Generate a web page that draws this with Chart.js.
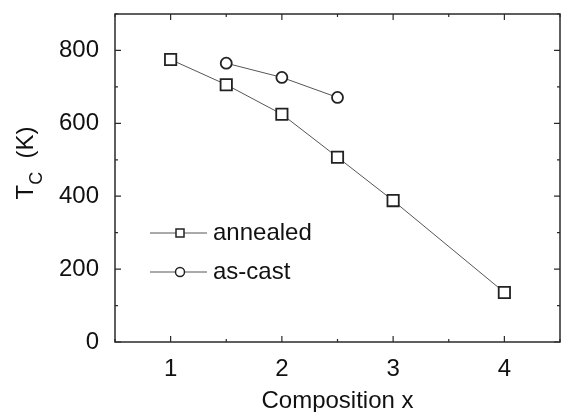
<!DOCTYPE html>
<html>
<head>
<meta charset="utf-8">
<script src="https://cdn.jsdelivr.net/npm/chart.js@4/dist/chart.umd.min.js"></script>
<style>
  html, body { margin: 0; padding: 0; background: #fff; }
  #wrap { width: 561px; height: 412px; }
</style>
</head>
<body>
<div id="wrap"><canvas id="grafico" width="561" height="412"></canvas></div>
<script>
// dados
const composicaoAnnealed = [1, 1.5, 2, 2.5, 3, 4];
const tcAnnealed = [775, 706, 625, 507, 388, 136];
const composicaoAsCast = [1.5, 2, 2.5];
const tcAsCast = [765, 726, 671];

const xTicks = [1, 2, 3, 4];
const xMinorTicks = [0.5, 1.5, 2.5, 3.5, 4.5];
const yTicks = [0, 200, 400, 600, 800];
const yMinorTicks = [100, 300, 500, 700, 900];

const fonte = '"Liberation Sans", Arial, sans-serif';
const corEixo = '#2a2a2a';
const tamFonte = 24;

function pontos(xs, ys) {
    return xs.map((x, i) => ({ x, y: ys[i] }));
}

// moldura, ticks internos, titulos e legenda
const molduraPlugin = {
    id: 'moldura',
    afterDraw(chart) {
        const { ctx, chartArea: a, scales } = chart;
        const sx = scales.x, sy = scales.y;
        ctx.save();
        ctx.strokeStyle = corEixo;
        ctx.lineWidth = 1.5;
        ctx.strokeRect(a.left, a.top, a.right - a.left, a.bottom - a.top);

        ctx.lineWidth = 1.2;
        const tickX = (v, len) => {
            const px = sx.getPixelForValue(v);
            ctx.beginPath();
            ctx.moveTo(px, a.bottom); ctx.lineTo(px, a.bottom - len);
            ctx.moveTo(px, a.top); ctx.lineTo(px, a.top + len);
            ctx.stroke();
        };
        const tickY = (v, len) => {
            const py = sy.getPixelForValue(v);
            ctx.beginPath();
            ctx.moveTo(a.left, py); ctx.lineTo(a.left + len, py);
            ctx.moveTo(a.right, py); ctx.lineTo(a.right - len, py);
            ctx.stroke();
        };
        xTicks.forEach(v => tickX(v, 6));
        xMinorTicks.forEach(v => tickX(v, 3));
        yTicks.forEach(v => tickY(v, 6));
        yMinorTicks.forEach(v => tickY(v, 3));

        // titulo eixo x
        ctx.fillStyle = '#111';
        ctx.font = tamFonte + 'px ' + fonte;
        ctx.textAlign = 'center';
        ctx.textBaseline = 'alphabetic';
        ctx.fillText('Composition x', (a.left + a.right) / 2, 408);

        // titulo eixo y: T_C (K)
        ctx.save();
        ctx.translate(33, 163);
        ctx.rotate(-Math.PI / 2);
        ctx.textAlign = 'left';
        ctx.font = tamFonte + 'px ' + fonte;
        const wT = ctx.measureText('T').width;
        ctx.font = '18px ' + fonte;
        const wC = ctx.measureText('C').width;
        ctx.font = tamFonte + 'px ' + fonte;
        const wK = ctx.measureText('  (K)').width;
        const total = wT + wC + wK;
        let x0 = -total / 2;
        ctx.fillText('T', x0, 0);
        ctx.font = '18px ' + fonte;
        ctx.fillText('C', x0 + wT, 9);
        ctx.font = tamFonte + 'px ' + fonte;
        ctx.fillText('  (K)', x0 + wT + wC, 0);
        ctx.restore();

        // legenda
        const itens = [
            { label: 'annealed', estilo: 'rect', y: 233 },
            { label: 'as-cast', estilo: 'circle', y: 272 }
        ];
        itens.forEach(it => {
            ctx.strokeStyle = '#555';
            ctx.lineWidth = 1;
            ctx.beginPath();
            ctx.moveTo(150, it.y); ctx.lineTo(207, it.y);
            ctx.stroke();
            ctx.fillStyle = '#fff';
            ctx.strokeStyle = '#222';
            ctx.lineWidth = 1.5;
            ctx.beginPath();
            if (it.estilo === 'rect') ctx.rect(176, it.y - 4, 8, 8);
            else ctx.arc(180, it.y, 4.5, 0, Math.PI * 2);
            ctx.fill();
            ctx.stroke();
            ctx.fillStyle = '#111';
            ctx.font = tamFonte + 'px ' + fonte;
            ctx.textAlign = 'left';
            ctx.textBaseline = 'middle';
            ctx.fillText(it.label, 213, it.y);
        });
        ctx.restore();
    }
};

new Chart(document.getElementById('grafico'), {
    type: 'scatter',
    data: {
        datasets: [
            {
                label: 'annealed',
                data: pontos(composicaoAnnealed, tcAnnealed),
                showLine: true,
                borderColor: '#555',
                borderWidth: 1,
                pointStyle: 'rect',
                pointRadius: 8,
                pointBorderWidth: 1.8,
                pointBorderColor: '#222',
                pointBackgroundColor: '#fff'
            },
            {
                label: 'as-cast',
                data: pontos(composicaoAsCast, tcAsCast),
                showLine: true,
                borderColor: '#555',
                borderWidth: 1,
                pointStyle: 'circle',
                pointRadius: 5.5,
                pointBorderWidth: 1.8,
                pointBorderColor: '#222',
                pointBackgroundColor: '#fff'
            }
        ]
    },
    options: {
        responsive: false,
        animation: false,
        layout: { autoPadding: false, padding: { top: 14, right: 1, left: 0, bottom: 0 } },
        plugins: { legend: { display: false }, tooltip: { enabled: false } },
        scales: {
            x: {
                type: 'linear',
                min: 0.5,
                max: 4.5,
                grid: { display: false },
                border: { display: false },
                afterBuildTicks: s => { s.ticks = xTicks.map(v => ({ value: v })); },
                afterFit: s => { s.height = 70; s.paddingLeft = 0; s.paddingRight = 0; },
                ticks: { color: '#111', padding: 5, font: { size: tamFonte, family: fonte } }
            },
            y: {
                min: 0,
                max: 900,
                grid: { display: false },
                border: { display: false },
                afterBuildTicks: s => { s.ticks = yTicks.map(v => ({ value: v })); },
                afterFit: s => { s.width = 115; s.paddingTop = 0; s.paddingBottom = 0; },
                ticks: { color: '#111', padding: 8, font: { size: tamFonte, family: fonte } }
            }
        }
    },
    plugins: [molduraPlugin]
});
</script>
</body>
</html>
